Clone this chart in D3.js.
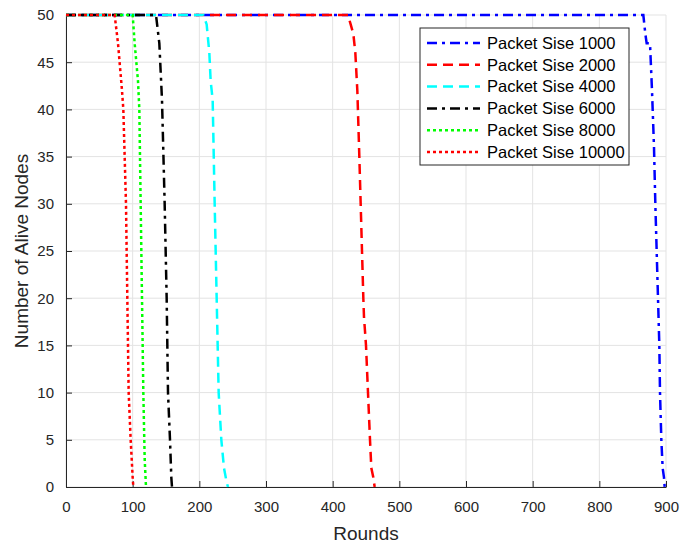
<!DOCTYPE html>
<html>
<head>
<meta charset="utf-8">
<script src="https://cdn.jsdelivr.net/npm/d3@7"></script>
<style>
  body { margin: 0; background: #fff; }
  svg { display: block; font-family: "Liberation Sans", Arial, sans-serif; }
</style>
</head>
<body>
<div id="chart"></div>
<script>
// Data: [round, alive nodes]
var s1000 = [[0,50],[866,50],[869,48],[871,47],[876,47],[879,42],[882,36],[884,30],[886,25],[888,20],[890,15],[891,10],[893,5],[895,2],[897,1],[898,0]];
var s2000 = [[0,50],[423,50],[427,49],[431,48],[434,46],[437,42],[440,35],[442,30],[444,25],[446,20],[447,18],[450,15],[453,10],[456,5],[458,2],[461,1],[463,0]];
var s4000 = [[0,50],[206,50],[211,49],[215,46],[217,43],[220,41],[223,30],[226,20],[229,10],[233,5],[237,2],[241,0.5],[243,0]];
var s6000 = [[0,50],[135,50],[140,47],[144,41],[148,30],[151,20],[153,10],[156,5],[158,1],[159,0]];
var s8000 = [[0,50],[100,50],[103,47],[108,43],[110,40],[113,25],[116,10],[118,3],[120,0]];
var s10000 = [[0,50],[73,50],[78,47],[84,42],[86,40],[90,30],[92,20],[94,10],[97,5],[100,1],[101,0]];

var seriesNames = ["Packet Sise 1000", "Packet Sise 2000", "Packet Sise 4000", "Packet Sise 6000", "Packet Sise 8000", "Packet Sise 10000"];
var seriesData = [s1000, s2000, s4000, s6000, s8000, s10000];
var seriesColors = ["#0000ff", "#ff0000", "#00ffff", "#000000", "#00ff00", "#ff0000"];
var seriesDash = ["10,5,3,5", "10,6", "10,6", "10,5,3,5", "3,3", "3,3"];

var xTicks = [0, 100, 200, 300, 400, 500, 600, 700, 800, 900];
var yTicks = [0, 5, 10, 15, 20, 25, 30, 35, 40, 45, 50];

var width = 683, height = 548;
var margin = {left: 66, top: 15, right: 17, bottom: 61};
var axisColor = "#262626";

var svg = d3.select("#chart").append("svg")
    .attr("width", width)
    .attr("height", height);

var x = d3.scaleLinear().domain([0, 900]).range([margin.left, width - margin.right]);
var y = d3.scaleLinear().domain([0, 50]).range([height - margin.bottom, margin.top]);

// grid
svg.append("g").selectAll("line.vx")
    .data(xTicks).enter().append("line")
    .attr("x1", function(d) { return x(d); }).attr("x2", function(d) { return x(d); })
    .attr("y1", y(0)).attr("y2", y(50))
    .attr("stroke", "#e3e3e3").attr("stroke-width", 1);
svg.append("g").selectAll("line.hy")
    .data(yTicks).enter().append("line")
    .attr("x1", x(0)).attr("x2", x(900))
    .attr("y1", function(d) { return y(d); }).attr("y2", function(d) { return y(d); })
    .attr("stroke", "#e3e3e3").attr("stroke-width", 1);

// axes
var xAxis = d3.axisBottom(x).tickValues(xTicks).tickSizeInner(-6).tickSizeOuter(0).tickPadding(14);
var yAxis = d3.axisLeft(y).tickValues(yTicks).tickSizeInner(-6).tickSizeOuter(0).tickPadding(12);

var gx = svg.append("g").attr("transform", "translate(0," + y(0) + ")").call(xAxis);
var gy = svg.append("g").attr("transform", "translate(" + x(0) + ",0)").call(yAxis);

[gx, gy].forEach(function(g) {
    g.select(".domain").attr("stroke", axisColor).attr("stroke-width", 1);
    g.selectAll(".tick line").attr("stroke", axisColor);
    g.selectAll(".tick text")
        .attr("fill", axisColor)
        .style("font-size", "15px")
        .style("font-family", "'Liberation Sans', Arial, sans-serif");
});

// axis titles
svg.append("text")
    .attr("x", (x(0) + x(900)) / 2).attr("y", 540)
    .attr("text-anchor", "middle")
    .attr("fill", axisColor)
    .style("font-size", "19px")
    .text("Rounds");

svg.append("text")
    .attr("transform", "translate(28," + ((y(0) + y(50)) / 2) + ") rotate(-90)")
    .attr("text-anchor", "middle")
    .attr("fill", axisColor)
    .style("font-size", "19px")
    .text("Number of Alive Nodes");

// lines
var line = d3.line()
    .x(function(d) { return x(d[0]); })
    .y(function(d) { return y(d[1]); });

svg.append("g").selectAll("path.series")
    .data(seriesData).enter().append("path")
    .attr("class", "series")
    .attr("d", line)
    .attr("fill", "none")
    .attr("stroke", function(d, i) { return seriesColors[i]; })
    .attr("stroke-width", 2.5)
    .attr("stroke-dasharray", function(d, i) { return seriesDash[i]; });

// legend
var legend = svg.append("g").attr("transform", "translate(420,28)");
legend.append("rect")
    .attr("width", 209).attr("height", 137)
    .attr("fill", "#fff")
    .attr("stroke", axisColor).attr("stroke-width", 1);

var rows = legend.selectAll("g.row")
    .data(seriesNames).enter().append("g")
    .attr("class", "row")
    .attr("transform", function(d, i) { return "translate(0," + (15 + i * 21.8) + ")"; });

rows.append("line")
    .attr("x1", 7).attr("x2", 60)
    .attr("y1", 0).attr("y2", 0)
    .attr("stroke", function(d, i) { return seriesColors[i]; })
    .attr("stroke-width", 2.5)
    .attr("stroke-dasharray", function(d, i) { return seriesDash[i]; });

rows.append("text")
    .attr("x", 67).attr("y", 0)
    .attr("dy", "0.35em")
    .attr("fill", "#000")
    .style("font-size", "16.5px")
    .text(function(d) { return d; });
</script>
</body>
</html>
